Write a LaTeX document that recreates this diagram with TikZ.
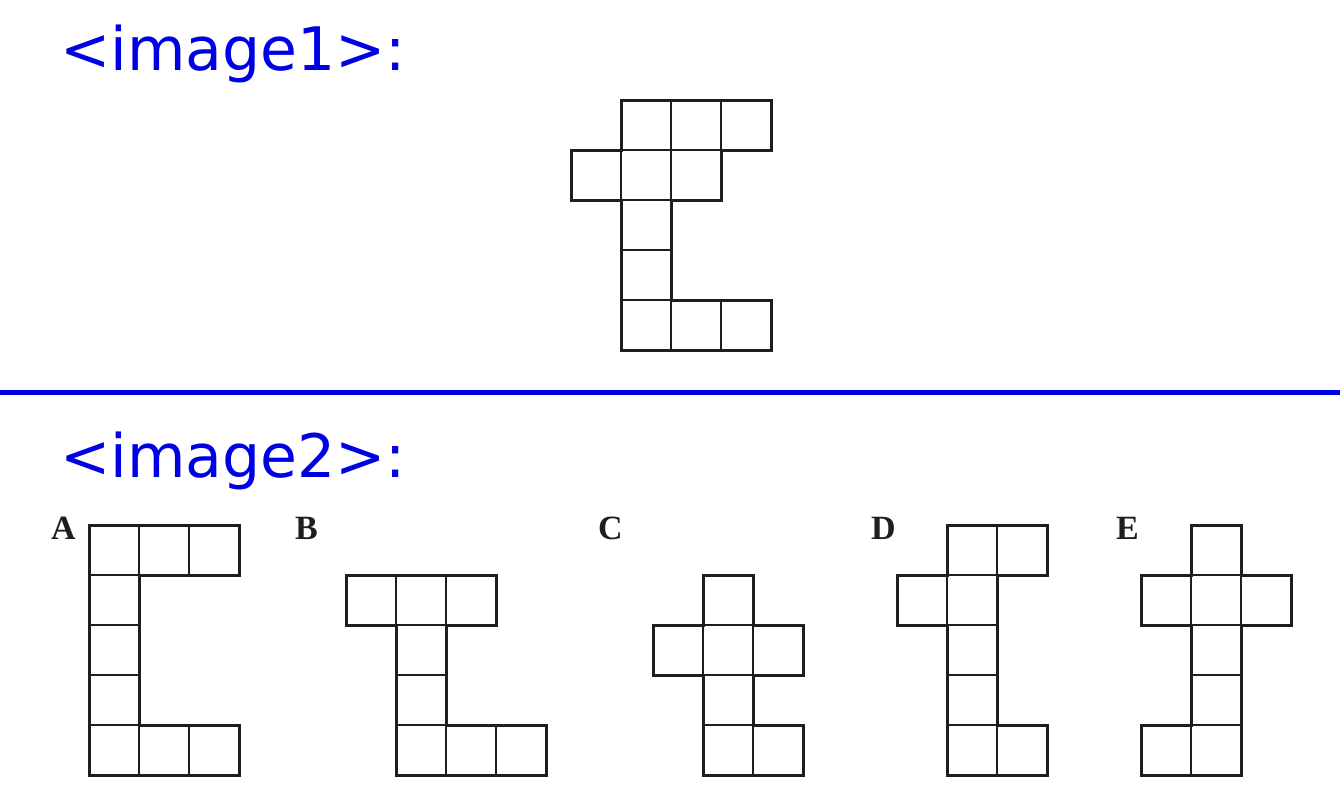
\documentclass[tikz,border=0pt]{standalone}
\usepackage{fontspec}
\setmainfont{Liberation Serif}
\newfontfamily\djv{DejaVu Sans}
\definecolor{sq}{RGB}{30,30,30}
\definecolor{hdblue}{RGB}{0,0,228}
\tikzset{
  cellbox/.style={draw=sq, line width=2.4pt},
  outline/.style={draw=sq, line width=3pt, line join=miter},
  header/.style={anchor=base west, inner sep=0pt, text=hdblue, font=\djv\fontsize{60}{62}\selectfont},
  optlabel/.style={anchor=base west, inner sep=0pt, text=sq, font=\bfseries\fontsize{34}{36}\selectfont},
}
\begin{document}
\begin{tikzpicture}[x=1pt,y=-1pt]
\useasboundingbox (0,0) rectangle (1340,811);
\fill[white] (0,0) rectangle (1340,811);
% headers
\node[header] (h1) at (60,70) {<image1>:};
\node[header] (h2) at (60,477) {<image2>:};
\draw[hdblue, line width=5pt] (0,392.5) -- (1340,392.5);
% image 1
\foreach \x/\y in {621/100,671/100,721/100,571/150,621/150,671/150,621/200,621/250,621/300,671/300,721/300}
  \draw[cellbox] (\x,\y) rectangle ++(50,50);
\draw[outline] (621,100)--(771,100)--(771,150)--(721,150)--(721,200)--(671,200)--(671,300)--(771,300)--(771,350)--(621,350)--(621,200)--(571,200)--(571,150)--(621,150)--cycle;
% A
\node[optlabel] (la) at (51,539) {A};
\foreach \x/\y in {89/525,139/525,189/525,89/575,89/625,89/675,89/725,139/725,189/725}
  \draw[cellbox] (\x,\y) rectangle ++(50,50);
\draw[outline] (89,525)--(239,525)--(239,575)--(139,575)--(139,725)--(239,725)--(239,775)--(89,775)--cycle;
% B
\node[optlabel] (lb) at (295,539) {B};
\foreach \x/\y in {346/575,396/575,446/575,396/625,396/675,396/725,446/725,496/725}
  \draw[cellbox] (\x,\y) rectangle ++(50,50);
\draw[outline] (346,575)--(496,575)--(496,625)--(446,625)--(446,725)--(546,725)--(546,775)--(396,775)--(396,625)--(346,625)--cycle;
% C
\node[optlabel] (lc) at (598,539) {C};
\foreach \x/\y in {703/575,653/625,703/625,753/625,703/675,703/725,753/725}
  \draw[cellbox] (\x,\y) rectangle ++(50,50);
\draw[outline] (703,575)--(753,575)--(753,625)--(803,625)--(803,675)--(753,675)--(753,725)--(803,725)--(803,775)--(703,775)--(703,675)--(653,675)--(653,625)--(703,625)--cycle;
% D
\node[optlabel] (ld) at (871,539) {D};
\foreach \x/\y in {947/525,997/525,897/575,947/575,947/625,947/675,947/725,997/725}
  \draw[cellbox] (\x,\y) rectangle ++(50,50);
\draw[outline] (947,525)--(1047,525)--(1047,575)--(997,575)--(997,725)--(1047,725)--(1047,775)--(947,775)--(947,625)--(897,625)--(897,575)--(947,575)--cycle;
% E
\node[optlabel] (le) at (1116,539) {E};
\foreach \x/\y in {1191/525,1141/575,1191/575,1241/575,1191/625,1191/675,1141/725,1191/725}
  \draw[cellbox] (\x,\y) rectangle ++(50,50);
\draw[outline] (1191,525)--(1241,525)--(1241,575)--(1291,575)--(1291,625)--(1241,625)--(1241,775)--(1141,775)--(1141,725)--(1191,725)--(1191,625)--(1141,625)--(1141,575)--(1191,575)--cycle;
\end{tikzpicture}
\end{document}
